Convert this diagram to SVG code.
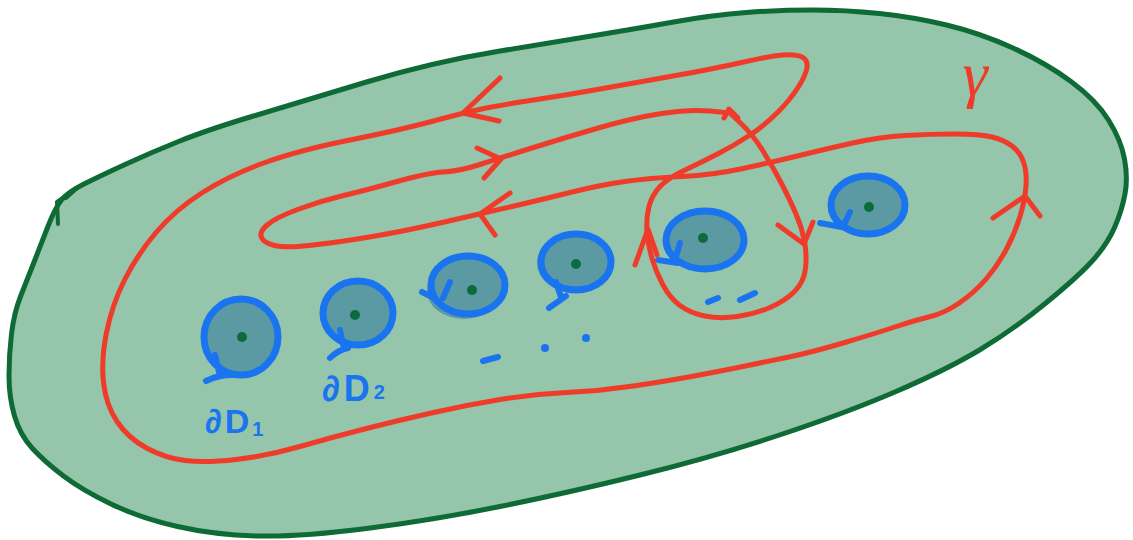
<svg xmlns="http://www.w3.org/2000/svg" width="1133" height="540" viewBox="0 0 1133 540">
<style>
.red{fill:none;stroke:#ef3b2a;stroke-width:5;stroke-linecap:round;stroke-linejoin:round}
.df{fill:#5b9aa2;stroke:#1a74f0;stroke-width:7}
.dfo{fill:#5b9aa2;stroke:none}
.tail{fill:none;stroke:#1a74f0;stroke-width:6;stroke-linecap:round;stroke-linejoin:round}
.dot{fill:#0c6b3a}
.bm{fill:none;stroke:#1a74f0;stroke-width:6;stroke-linecap:round}
.bd{fill:#1a74f0}
.lbl{font-family:"Liberation Sans",Arial,sans-serif;font-weight:bold;fill:#1a74f0}
</style>
<rect width="1133" height="540" fill="#ffffff"/>
<g id="surface">
<path d="M47.5,227.5 Q55,208 61.5,200 Q68,192 84,184 Q100,176 125,164.5 Q150,153 178.5,141.5 Q207,130 253.5,116 Q300,102 366.5,82 Q433,62 500,51 Q567,40 603.5,34 Q640,28 676.5,21.5 Q713,15 746.5,12.5 Q780,10 813,10 Q846,10 879.5,13.5 Q913,17 946.5,25 Q980,33 1013,48 Q1046,63 1071,81.5 Q1096,100 1108.5,120 Q1121,140 1124.5,159 Q1128,178 1125,194 Q1122,210 1115,226.5 Q1108,243 1094,259 Q1080,275 1046.5,302.5 Q1013,330 979.5,350 Q946,370 896,391.5 Q846,413 779.5,435 Q713,457 640,475 Q567,493 500,506.5 Q433,520 366.5,528.5 Q300,537 257.5,536 Q215,535 177.5,526.5 Q140,518 111,504 Q82,490 63.5,476 Q45,462 32.5,448.5 Q20,435 14.5,416 Q9,397 9,376 Q9,355 11.5,334 Q14,313 20.5,296.5 Q27,280 33.5,263.5 Q40,247 47.5,227.5 Z" fill="#95c5aa" stroke="#0e6b35" stroke-width="5" stroke-linejoin="round"/>
<path d="M58,224 L57,202 L77,188 L66,198" fill="none" stroke="#0e6b35" stroke-width="4" stroke-linecap="round" stroke-linejoin="round"/>
</g>
<g id="disk1">
<ellipse class="df" cx="241" cy="337" rx="37" ry="38"/>
<path class="tail" d="M215,355 L219,372 M206,381 Q220,374 236,375"/>
<circle class="dot" cx="242" cy="337" r="5"/>
</g>
<g id="disk2">
<ellipse class="df" cx="358" cy="313" rx="35" ry="32"/>
<path class="tail" d="M340,330 L343,345 M330,358 Q338,350 348,348"/>
<circle class="dot" cx="355" cy="315" r="5"/>
</g>
<g id="disk3">
<ellipse class="dfo" cx="464" cy="291" rx="37" ry="28"/>
<ellipse class="df" cx="468" cy="285" rx="37" ry="29"/>
<path class="tail" d="M450,282 L443,298 M422,292 L434,298"/>
<circle class="dot" cx="472" cy="290" r="5"/>
</g>
<g id="disk4">
<ellipse class="dfo" cx="572" cy="263" rx="35" ry="29"/>
<ellipse class="df" cx="576" cy="262" rx="35" ry="28"/>
<path class="tail" d="M556,282 L561,297 M549,308 L566,296"/>
<circle class="dot" cx="576" cy="264" r="5"/>
</g>
<g id="disk5">
<ellipse class="df" cx="705" cy="240" rx="39" ry="29"/>
<path class="tail" d="M680,243 L675,260 M658,260 L678,263"/>
<circle class="dot" cx="703" cy="238" r="5"/>
</g>
<g id="disk6">
<ellipse class="df" cx="868" cy="205" rx="37" ry="29"/>
<path class="tail" d="M850,212 L843,227 M820,223 L847,228"/>
<circle class="dot" cx="869" cy="207" r="5"/>
</g>
<g id="ellipsis-marks">
<path class="bm" d="M483,361 L498,357 M708,302 L718,298 M740,300 L755,293"/>
<circle class="bd" cx="545" cy="348" r="4"/>
<circle class="bd" cx="586" cy="338" r="4"/>
</g>
<g id="labels">
<text class="lbl" x="205" y="433" font-size="34" letter-spacing="3">∂D<tspan font-size="20" dy="3">1</tspan></text>
<text class="lbl" x="322" y="401" font-size="36" letter-spacing="4">∂D<tspan font-size="20" dy="-2">2</tspan></text>
<text x="975" y="95" font-family="'Liberation Serif','Times New Roman',serif" font-style="italic" font-size="64" fill="#ef3b2a" text-anchor="middle">γ</text>
</g>
<g id="connectors">
<path id="gamma" class="red" d="M730,113 L741.5,124 Q753,135 763,151 Q773,167 781.5,183.5 Q790,200 796,214 Q802,228 804.5,241.5 Q807,255 805.5,268.5 Q804,282 794.5,291.5 Q785,301 770,307.5 Q755,314 737.5,316.5 Q720,319 705,316 Q690,313 680,305.5 Q670,298 663,285 Q656,272 652,258.5 Q648,245 647,231.5 Q646,218 649,206.5 Q652,195 660,186.5 Q668,178 684,170.5 Q700,163 717.5,154 Q735,145 750,135 Q765,125 777.5,112.5 Q790,100 798,87.5 Q806,75 807,67.5 Q808,60 802,57 Q796,54 783,55 Q770,56 741.5,62.5 Q713,69 673,76 Q633,83 600,89 Q567,95 533.5,100 Q500,105 481.5,109 Q463,113 431.5,121.5 Q400,130 350,140 Q300,150 265,162.5 Q230,175 202.5,192.5 Q175,210 156,232.5 Q137,255 124.5,280 Q112,305 106.5,332.5 Q101,360 103.5,382.5 Q106,405 117,421.5 Q128,438 146.5,448 Q165,458 185,460.5 Q205,463 236,459.5 Q267,456 300,446.5 Q333,437 366.5,428.5 Q400,420 433.5,412.5 Q467,405 500,399.5 Q533,394 566.5,392.5 Q600,391 633.5,386 Q667,381 691.5,376.5 Q716,372 740.5,367 Q765,362 789,357 Q813,352 846.5,342 Q880,332 898,326 Q916,320 930.5,316.5 Q945,313 960,302.5 Q975,292 986.5,278.5 Q998,265 1006.5,249 Q1015,233 1020,216.5 Q1025,200 1026,186 Q1027,172 1023.5,162 Q1020,152 1012,146 Q1004,140 992,137 Q980,134 955,134 Q930,134 905,135.5 Q880,137 855,142.5 Q830,148 801.5,155 Q773,162 743,168.5 Q713,175 681.5,176.5 Q650,178 625,181.5 Q600,185 570,192.5 Q540,200 510,207 Q480,214 440,223 Q400,232 366.5,237.5 Q333,243 309,245.5 Q285,248 274.5,245.5 Q264,243 261.5,237.5 Q259,232 267,225 Q275,218 297.5,209.5 Q320,201 343.5,195.5 Q367,190 397,181.5 Q427,173 443.5,172 Q460,171 480,164.5 Q500,158 533.5,147.5 Q567,137 600,127.5 Q633,118 661.5,113.5 Q690,109 710,111 L730,113"/>
<path class="red" d="M500,78 L463,113 L499,121"/>
<path class="red" d="M477,148 L501,159 L484,178"/>
<path class="red" d="M510,193 L480,214 L495,235"/>
<path class="red" d="M778,225 L804,244 L813,222"/>
<path class="red" d="M635,265 L648,229 L657,255"/>
<path class="red" d="M993,218 L1025,196 L1040,216"/>
<path class="red" d="M724,118 L729,109 L738,118"/>
</g>
</svg>
